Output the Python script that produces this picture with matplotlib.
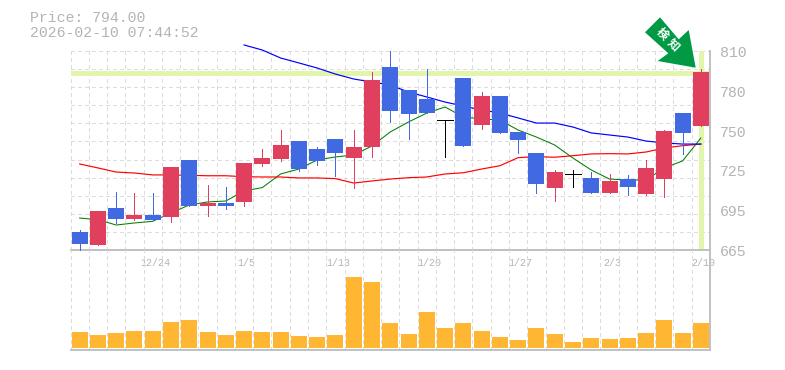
import matplotlib
matplotlib.use("Agg")
import matplotlib.pyplot as plt
import numpy as np
from matplotlib.patches import Polygon

# candle data
opens = [678.1, 668.6, 695.6, 687.6, 690.5, 689.0, 730.6, 697.1, 699.3, 700.0, 727.7, 731.3,
         744.4, 738.6, 745.9, 732.0, 740.0, 798.3, 781.6, 775.0, 759.7, 790.3, 756.1, 777.2,
         751.0, 735.7, 710.2, 720.4, 717.5, 706.5, 716.7, 705.8, 716.7, 764.8, 755.4]
closes = [669.4, 693.4, 687.6, 690.5, 686.9, 725.5, 697.1, 699.3, 697.1, 728.4, 732.0, 741.5,
          724.0, 729.9, 735.7, 740.0, 788.9, 766.3, 764.1, 764.8, 759.7, 740.8, 777.2, 750.3,
          745.2, 713.1, 721.8, 720.4, 706.5, 715.3, 710.9, 724.8, 751.7, 750.3, 794.7]
highs = [679.6, 693.4, 707.3, 706.5, 706.5, 725.5, 730.6, 712.4, 710.9, 728.4, 738.6, 752.4,
         744.4, 740.0, 745.9, 752.4, 794.7, 810.0, 781.6, 796.9, 759.7, 790.3, 780.1, 777.2,
         751.0, 735.7, 723.3, 723.3, 721.8, 720.4, 719.7, 730.6, 752.4, 764.8, 796.9]
lows = [665.0, 668.6, 684.7, 686.9, 686.9, 685.4, 697.1, 689.8, 694.9, 697.1, 726.2, 729.9,
        722.6, 726.9, 718.9, 710.2, 732.8, 758.3, 745.9, 764.8, 732.8, 740.8, 753.2, 750.3,
        735.7, 706.5, 700.7, 710.9, 706.5, 706.5, 705.1, 705.1, 703.6, 735.0, 755.4]

# moving averages (the blue one starts at the 10th candle)
ma_green = [688.3, 687.1, 683.2, 684.7, 685.9, 692.0, 697.8, 700.0, 700.7, 708.0, 710.5, 720.4,
            724.0, 730.6, 732.8, 734.2, 740.8, 751.0, 758.3, 764.8, 769.2, 761.9, 760.5, 759.7,
            752.4, 747.3, 741.5, 732.0, 723.3, 716.7, 716.0, 716.0, 724.8, 729.9, 746.6]
ma_red = [727.7, 724.8, 721.8, 721.1, 719.7, 719.7, 719.4, 719.1, 719.1, 718.4, 718.2, 718.2,
          717.5, 717.5, 717.0, 713.8, 715.3, 716.7, 717.7, 718.2, 720.4, 721.3, 724.0, 726.4,
          732.3, 733.0, 732.6, 733.7, 735.0, 735.2, 735.0, 736.4, 739.3, 741.0, 742.2]
ma_blue = [814.4, 810.7, 804.9, 801.3, 797.6, 793.2, 789.6, 787.4, 785.2, 780.1, 776.5, 772.8,
           769.9, 767.0, 764.8, 761.2, 757.5, 757.5, 754.6, 750.3, 748.8, 747.3, 744.4, 743.0,
           742.2, 742.2]

volumes = [16, 13, 15, 17, 17, 26, 28, 16, 13, 17, 16, 16, 12, 11, 13, 71, 66, 25,
           14, 36, 20, 25, 17, 11, 8, 20, 14, 6, 10, 9, 10, 15, 28, 15, 25]

last_price = 794.0
price_ticks = [810, 781, 752, 723, 694, 665]
price_labels = ["810", "780", "750", "725", "695", "665"]
date_index = [4, 9, 14, 19, 24, 29, 34]
date_labels = ["12/24", "1/5", "1/13", "1/20", "1/27", "2/3", "2/10"]

W, H = 785, 370
GRID = "#dcdcdc"
FRAME = "#c0c0c0"
TEXT = "#b4b4b4"
UP = "#e0405e"
DOWN = "#4169e1"
BAND = "#e2f6ab"
MONO = "Liberation Mono"


def px_axes(fig, left, top, right, bottom):
    return fig.add_axes([left / W, 1 - bottom / H, (right - left) / W, (bottom - top) / H])


def style_axes(ax):
    ax.set_xlim(-0.5, 34.5)
    ax.set_xticks([])
    ax.set_yticks([])
    ax.patch.set_visible(False)
    for s in ["top", "left"]:
        ax.spines[s].set_visible(False)
    for s in ["right", "bottom"]:
        ax.spines[s].set_color(FRAME)
        ax.spines[s].set_linewidth(1.4)
    for i in range(35):
        ax.axvline(i - 0.5, color=GRID, lw=0.72, ls=(0, (3, 3)), zorder=1, antialiased=False)


fig = plt.figure(figsize=(W / 100, H / 100), dpi=100)

ax = px_axes(fig, 70.5, 51, 710, 250)
style_axes(ax)
ax.set_ylim(665, 810)
for v in np.linspace(665, 810, 12):
    ax.axhline(v, color=GRID, lw=0.72, ls=(0, (3, 3)), zorder=1, antialiased=False)

x = np.arange(35)
ax.axhline(last_price, color=BAND, lw=2.4, zorder=2, antialiased=False)
ax.axvline(34, color=BAND, lw=2.4, zorder=2, antialiased=False)

ax.plot(x, ma_green, color="#008000", lw=0.75, zorder=3, clip_on=False)
ax.plot(x, ma_red, color="#ff0000", lw=0.85, zorder=3, clip_on=False)
ax.plot(x[9:], ma_blue, color="#0000ff", lw=0.85, zorder=3, clip_on=False)

for i in range(35):
    if opens[i] == closes[i]:
        c = "black"
    elif closes[i] > opens[i]:
        c = UP
    else:
        c = DOWN
    ax.vlines(i, lows[i], highs[i], color=c, lw=0.72, zorder=4, antialiased=False, clip_on=False)
    if c == "black":
        ax.hlines(opens[i], i - 0.44, i + 0.44, color=c, lw=0.72, zorder=5, antialiased=False)
    else:
        ax.bar(i, abs(closes[i] - opens[i]), bottom=min(opens[i], closes[i]), width=0.875,
               color=c, zorder=5, antialiased=False)

for v, lab in zip(price_ticks, price_labels):
    ax.annotate(lab, xy=(1, v), xycoords=ax.get_yaxis_transform(), xytext=(10, -2),
                textcoords="offset pixels", ha="left", va="center", color=TEXT,
                fontsize=10.7, family=MONO, annotation_clip=False)
for i, lab in zip(date_index, date_labels):
    ax.annotate(lab, xy=(i, 0), xycoords=ax.get_xaxis_transform(), xytext=(2.5, -12.5),
                textcoords="offset pixels", ha="center", va="center", color=TEXT,
                fontsize=7.2, family=MONO, annotation_clip=False)

vax = px_axes(fig, 70.5, 250, 710, 350)
style_axes(vax)
vax.set_ylim(-2, 98)
vax.bar(x, volumes, width=0.875, color="#ffb733", zorder=3, antialiased=False)

# overlay in pixel coordinates for the header and the arrow
top = fig.add_axes([0, 0, 1, 1], facecolor="none")
top.set_xlim(0, W)
top.set_ylim(H, 0)
top.axis("off")
top.text(30, 18, "Price: 794.00", color=TEXT, fontsize=10.7, family=MONO, ha="left", va="center")
top.text(30, 33, "2026-02-10 07:44:52", color=TEXT, fontsize=10.7, family=MONO, ha="left", va="center")

arrow = [(660, 17.3), (645, 32.3), (668.3, 53.3), (657.7, 61), (695.7, 67.7), (688.7, 30), (678.7, 39.3)]
top.add_patch(Polygon(arrow, closed=True, facecolor="#009a44", edgecolor="none", zorder=6))
top.text(661.7, 34.3, "検", color="white", fontsize=8.5, weight="bold", rotation=-45,
         rotation_mode="anchor", ha="center", va="center", family="Noto Sans CJK JP", zorder=7)
top.text(673.3, 44.3, "知", color="white", fontsize=8.5, weight="bold", rotation=-45,
         rotation_mode="anchor", ha="center", va="center", family="Noto Sans CJK JP", zorder=7)

fig.savefig("out.png", dpi=100)
